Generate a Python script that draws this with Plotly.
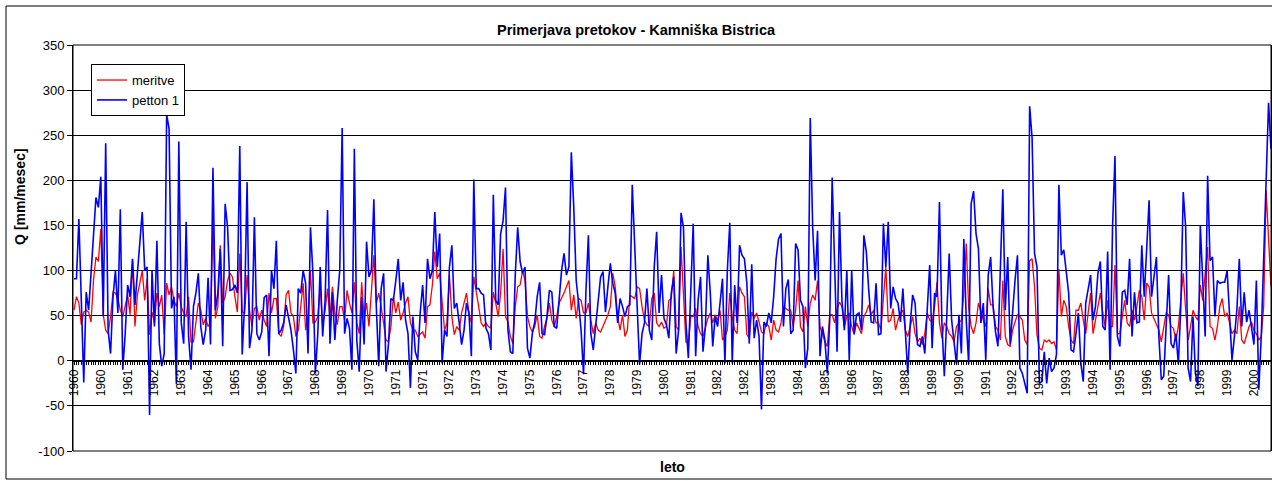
import plotly.graph_objects as go

# ---------------- data (monthly, Jan 1960 .. Dec 2000) ----------------
MERITVE = [
    56, 71, 64, 40, 54, 56, 54, 43, 89, 115,
    110, 146, 51, 34, 30, 49, 76, 75, 69, 56,
    49, 60, 73, 51, 111, 38, 73, 86, 100, 67,
    91, 29, 54, 42, 75, 60, 73, 29, 86, 73,
    82, 67, 60, 75, 60, 53, 49, 71, 21, 21,
    45, 64, 56, 40, 47, 38, 43, 156, 47, 60,
    128, 64, 71, 89, 97, 93, 71, 54, 119, 54,
    53, 95, 56, 38, 58, 60, 45, 56, 45, 38,
    75, 53,
    69, 69, 30, 27, 38, 73, 78, 53, 49, 27,
    34, 64, 86, 34, 49, 100, 42, 43, 49, 82,
    38, 56, 80, 49, 82, 53, 40, 60, 60, 45,
    78, 64, 53, 87, 42, 30, 87, 47, 64, 38,
    78, 117, 64, 75, 60, 40, 23, 21, 38, 71,
    53, 65, 45, 53, 64, 71, 42, 34, 34, 27,
    30, 32, 25, 60, 62, 84, 121, 91, 97, 60,
    34, 42, 95, 49, 29, 38, 34, 53, 64, 75,
    53, 42,
    93, 78, 60, 42, 38, 42, 38, 36, 76, 64,
    49, 75, 124, 49, 43, 27, 19, 60, 82, 84,
    100, 89, 49, 38, 32, 38, 51, 27, 25, 38,
    47, 64, 45, 38, 49, 64, 69, 75, 82, 89,
    56, 73, 47, 69, 67, 53, 53, 64, 45, 30,
    42, 34, 32, 38, 43, 51, 60, 97, 82, 49,
    34, 51, 27, 34, 73, 71, 69, 82, 80, 60,
    45, 40, 38, 69, 75, 42, 38, 43, 36, 38,
    67, 69,
    100, 38, 34, 126, 67, 21, 19, 49, 49, 58,
    38, 30, 27, 38, 47, 53, 42, 51, 45, 56,
    23, 27, 34, 75, 49, 34, 30, 82, 75, 71,
    29, 25, 54, 47, 53, 43, 32, 30, 42, 38,
    23, 45, 34, 32, 42, 60, 58, 56, 56, 38,
    56, 89, 38, 32, 60, 38, 64, 73, 67, 89,
    38, 30, 21, 16, 51, 51, 42, 58, 65, 60,
    38, 49, 53, 38, 29, 42, 36, 30, 49, 54,
    62, 51,
    56, 42, 42, 34, 69, 104, 43, 45, 58, 34,
    45, 53, 56, 34, 27, 38, 49, 30, 21, 25,
    18, 30, 53, 45, 43, 60, 87, 42, 25, 42,
    38, 30, 27, 21, 38, 42, 45, 75, 130, 58,
    38, 30, 42, 64, 53, 45, 38, 80, 62, 62,
    38, 34, 23, 89, 27, 18, 16, 34, 43, 51,
    49, 45, 23, 18, 111, 113, 82, 29, 14, 12,
    23, 21, 23, 19, 21, 12, 102, 49, 67, 60,
    38, 23,
    19, 56, 56, 64, 45, 30, 53, 75, 30, 45,
    60, 75, 53, 38, 67, 38, 38, 106, 30, 30,
    49, 67, 42, 38, 56, 45, 60, 78, 71, 45,
    86, 82, 53, 47, 40, 34, 21, 38, 53, 51,
    38, 36, 23, 38, 71, 97, 56, 23, 38, 56,
    49, 45, 84, 67, 97, 126, 38, 36, 23, 38,
    60, 69, 49, 53, 42, 30, 34, 30, 60, 23,
    19, 30, 38, 43, 34, 30, 23, 27, 60, 189,
    126, 82,
]

PETTON_1 = [
    91, 91, 157, 64, -24, 76, 56, 97, 141, 181,
    170, 204, 49, 241, 34, 8, 71, 100, 53, 168,
    -10, 30, 84, 71, 113, 62, 97, 133, 165, 100,
    104, -60, 100, 38, 133, 19, -6, 8, 273, 257,
    58, 71, -26, 243, 42, 19, 154, 27, -10, 60,
    75, 97, 38, 18, 34, 92, 18, 214, 56, 75,
    124, 16, 174, 148, 78, 79, 84, 75, 238, 7,
    64, 198, 14, 34, 159, 30, 23, 32, 70, 73,
    5, 100,
    80, 133, 30, 34, 42, 62, 49, 34, 12, -14,
    80, 75, 100, 86, 8, 148, 97, -14, 30, 104,
    27, 67, 167, 19, 76, 23, 67, 100, 258, 30,
    47, 36, -10, 235, 23, -12, 71, 18, 132, 93,
    100, 179, 60, -6, 80, 97, -12, 19, 69, 67,
    89, 113, 67, 87, 45, 30, -30, 49, 10, 1,
    53, 84, 42, 113, 91, 100, 165, 104, 141, -3,
    34, 27, 104, 128, 58, 64, 42, 18, 34, 64,
    53, 5,
    201, 80, 80, 75, 73, 36, 30, 12, 184, 67,
    62, 141, 155, 192, 34, 10, 8, 95, 148, 110,
    97, 104, 14, 3, 30, 43, 71, 87, 30, 29,
    49, 78, 76, 38, 36, 71, 100, 119, 95, 104,
    231, 170, 89, 64, 34, -15, 78, 139, 30, 12,
    38, 67, 93, 99, 54, 82, 108, 86, 75, 42,
    69, 60, 49, 60, 62, 195, 119, 60, -4, 30,
    42, 80, 34, 23, 104, 143, 53, 95, 47, 40,
    25, 75,
    93, 8, 34, 164, 148, 42, 3, 89, 152, 5,
    67, 93, 10, 38, 117, 75, 16, 49, 38, 64,
    91, -3, 100, 153, -3, 84, 42, 128, 117, 113,
    86, 19, 107, 25, 45, 27, -54, 43, 38, 53,
    42, 71, 113, 135, 141, 38, 80, 90, 30, 34,
    130, 123, 67, 60, -8, 14, 269, 148, 89, 144,
    5, 38, 23, -14, 45, 203, 97, 10, 165, 67,
    34, 100, 1, 100, 30, 51, 53, 34, 139, 121,
    78, 43,
    42, 86, 29, 30, 152, 104, 154, 58, 82, 69,
    64, 43, 80, 38, -14, 40, 73, 64, 18, 16,
    27, 8, 54, 106, 14, 75, 71, 176, 42, -17,
    49, 119, 45, 23, -4, 51, 8, 135, 45, -4,
    174, 188, 141, 124, 42, 64, 1, 95, 115, 60,
    32, 16, 97, 190, 56, 115, 18, 56, 89, 117,
    -8, -14, -25, -36, 282, 247, 119, 104, -25, -23,
    10, -25, 3, -12, -8, 7, 195, 117, 123, 97,
    75, 12,
    10, 30, 53, -3, -23, 64, 78, 95, 45, 60,
    97, 110, 38, 34, 121, -10, 148, 227, 27, 16,
    76, 78, 62, 113, 27, 76, 42, 43, 128, 71,
    124, 178, 71, 97, 115, 27, -21, -17, 42, 95,
    19, 14, 30, -4, 60, 187, 148, -8, -23, 49,
    -14, -28, 150, 86, 27, 205, 111, 115, 49, 89,
    86, 87, 87, 100, 42, 1, 27, 56, 113, 38,
    76, 43, 56, 34, 18, 89, -32, 27, 115, 200,
    286, 235,
]

# category axis: one category per month, a label every 11th category
TICK_STEP = 11
TICK_LABELS = [
    "1960", "1960", "1961", "1962", "1963", "1964", "1965", "1966", "1967",
    "1968", "1969", "1970", "1971", "1971", "1972", "1973", "1974", "1975",
    "1976", "1977", "1978", "1979", "1980", "1981", "1982", "1982", "1983",
    "1984", "1985", "1986", "1987", "1988", "1989", "1990", "1991", "1992",
    "1993", "1993", "1994", "1995", "1996", "1997", "1998", "1999", "2000",
]
Y_TICKS = [-100, -50, 0, 50, 100, 150, 200, 250, 300, 350]

TITLE = "Primerjava pretokov - Kamniška Bistrica"
Y_TITLE = "Q [mm/mesec]"
X_TITLE = "leto"

n = len(MERITVE)
cats = list(range(n))
ticktext = []
for i in cats:
    if i % TICK_STEP == 0 and i // TICK_STEP < len(TICK_LABELS):
        ticktext.append(TICK_LABELS[i // TICK_STEP])
    else:
        ticktext.append("")

FONT = "Liberation Sans, Arial, sans-serif"
Y_MIN, Y_MAX = Y_TICKS[0], Y_TICKS[-1]

fig = go.Figure()
fig.add_trace(go.Scatter(x=cats, y=MERITVE, mode="lines", name="meritve",
                         line=dict(color="#FF0000", width=1.3)))
fig.add_trace(go.Scatter(x=list(range(len(PETTON_1))), y=PETTON_1, mode="lines",
                         name="petton 1", line=dict(color="#0000FF", width=1.6)))

fig.update_layout(
    width=1272, height=481,
    margin=dict(l=73, r=1, t=45, b=30),
    paper_bgcolor="white", plot_bgcolor="white",
    font=dict(family=FONT, size=13, color="black"),
    title=dict(text="<b>" + TITLE + "</b>", x=0.5, xref="container",
               y=1 - 30 / 481, yref="container", yanchor="middle",
               xanchor="center", font=dict(size=14.5, family=FONT, color="black")),
    showlegend=True,
    legend=dict(x=0.015, y=0.953, xanchor="left", yanchor="top",
                bgcolor="white", bordercolor="black", borderwidth=1,
                font=dict(size=13, family=FONT, color="black"),
                tracegroupgap=0),
    xaxis=dict(
        range=[-0.41, n - 1], anchor="free",
        position=(0 - Y_MIN) / (Y_MAX - Y_MIN),
        showgrid=False, zeroline=False,
        showline=True, linecolor="black", linewidth=1,
        ticks="outside", ticklen=3, tickcolor="black", tickwidth=1,
        tickvals=cats, ticktext=ticktext, tickangle=-90,
        tickfont=dict(size=12, family=FONT, color="black"),
    ),
    yaxis=dict(
        range=[Y_MIN, Y_MAX], tickvals=Y_TICKS,
        ticktext=[str(v) for v in Y_TICKS],
        showgrid=True, gridcolor="black", gridwidth=1,
        zeroline=False, showline=True, linecolor="black", linewidth=1,
        mirror=True, ticks="outside", ticklen=5, tickcolor="black",
        tickfont=dict(size=13, family=FONT, color="black"),
    ),
    annotations=[
        dict(text="<b>" + Y_TITLE + "</b>", xref="paper", yref="paper",
             x=-0.0442, y=0.626, textangle=-90, showarrow=False,
             font=dict(size=14, family=FONT, color="black"),
             xanchor="center", yanchor="middle"),
        dict(text="<b>" + X_TITLE + "</b>", xref="paper", yref="paper",
             x=0.5, y=-0.039, showarrow=False,
             font=dict(size=14, family=FONT, color="black"),
             xanchor="center", yanchor="middle"),
    ],
    shapes=[
        dict(type="rect", xref="paper", yref="paper", x0=0, x1=1, y0=0, y1=1,
             line=dict(color="black", width=1), fillcolor="rgba(0,0,0,0)",
             layer="above"),
        dict(type="rect", xref="paper", yref="paper",
             x0=(6 - 73) / 1198, x1=1.002, y0=(451 - 479) / 406,
             y1=(451 - 6) / 406,
             line=dict(color="black", width=1), fillcolor="rgba(0,0,0,0)",
             layer="below"),
    ],
)

fig.write_html(
    "out.html",
    config={"displayModeBar": False},
    post_script="document.body.style.margin='0';document.body.style.overflow='hidden';",
)
